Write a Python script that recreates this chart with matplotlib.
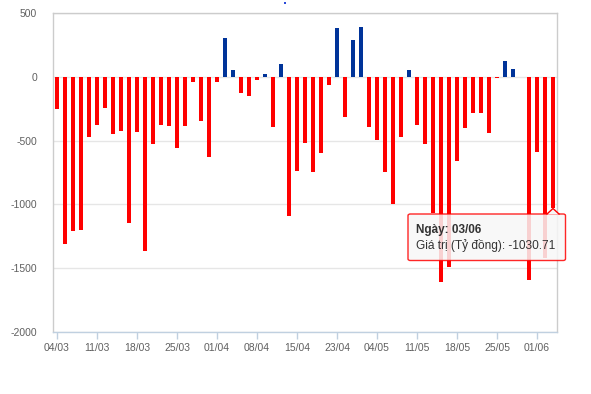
"""Net foreign trading value per session (bn VND), 04/03 - 03/06."""

import matplotlib

matplotlib.use("Agg")
import matplotlib.pyplot as plt
import numpy as np
from matplotlib.patches import FancyBboxPatch, Polygon, Rectangle

DATES = [
    "04/03", "05/03", "08/03", "09/03", "10/03", "11/03", "12/03", "15/03", "16/03", "17/03",
    "18/03", "19/03", "22/03", "23/03", "24/03", "25/03", "26/03", "29/03", "30/03", "31/03",
    "01/04", "02/04", "05/04", "06/04", "07/04", "08/04", "09/04", "12/04", "13/04", "14/04",
    "15/04", "16/04", "19/04", "20/04", "22/04", "23/04", "26/04", "27/04", "28/04", "29/04",
    "04/05", "05/05", "06/05", "07/05", "10/05", "11/05", "12/05", "13/05", "14/05", "17/05",
    "18/05", "19/05", "20/05", "21/05", "24/05", "25/05", "26/05", "27/05", "28/05", "31/05",
    "01/06", "02/06", "03/06",
]

VALUES = [
    -251, -1311, -1209, -1201, -471, -377, -243, -448, -424, -1146,
    -432, -1366, -526, -377, -385, -558, -385, -39, -346, -628,
    -39, 304, 52, -126, -149, -24, 21, -393, 99, -1091,
    -738, -518, -746, -597, -63, 382, -314, 288, 390, -393,
    -495, -746, -994, -471, 52, -377, -526, -1070, -1606, -1489,
    -660, -401, -283, -283, -440, -8, 123, 60, np.nan, -1590,
    -589, -1420, -1030.71,
]

Y_TICKS = [500, 0, -500, -1000, -1500, -2000]

POS_COLOR = "#003399"
NEG_COLOR = "#ff0000"
LABEL_COLOR = "#606060"

plt.rcParams["font.family"] = ["Liberation Sans", "DejaVu Sans"]

W, H = 591, 394
fig = plt.figure(figsize=(W / 100, H / 100), dpi=100)
ax = fig.add_axes([52.5 / W, 1 - 332 / H, (557 - 52.5) / W, (332 - 13) / H])

x = np.arange(len(DATES))
vals = np.array(VALUES, dtype=float)
colors = [POS_COLOR if v > 0 else NEG_COLOR for v in np.nan_to_num(vals)]
ax.bar(x, vals, width=0.5, color=colors, zorder=3)

ax.set_xlim(-0.56, len(DATES) - 0.5)
ax.set_ylim(-2000, 500)
ax.set_yticks(Y_TICKS)
ax.set_yticklabels([str(t) for t in Y_TICKS])
ax.grid(axis="y", color="#e6e6e6", linewidth=1, zorder=0)

tick_idx = x[::5]
ax.set_xticks(tick_idx)
ax.set_xticklabels([DATES[i] for i in tick_idx])

ax.tick_params(axis="y", length=0, pad=11, labelsize=7.5, labelcolor=LABEL_COLOR)
ax.tick_params(axis="x", direction="out", length=5, width=1, color="#c0d0e0",
               pad=3, labelsize=7.5, labelcolor=LABEL_COLOR)

for side in ("top", "right", "left"):
    ax.spines[side].set_color("#cccccc")
    ax.spines[side].set_linewidth(1)
ax.spines["bottom"].set_color("#c0d0e0")
ax.spines["bottom"].set_linewidth(1)


def px(xp, yp):
    return xp / W, 1 - yp / H


# tooltip for the last session
x0, y0, x1, y1 = 408, 214, 565.5, 260.5
box = FancyBboxPatch(px(x0, y1), (x1 - x0) / W, (y1 - y0) / H,
                     boxstyle="round,pad=0,rounding_size=0.004",
                     transform=fig.transFigure, facecolor="#f7f7f7", alpha=0.85,
                     edgecolor=NEG_COLOR, linewidth=1, zorder=10)
fig.patches.append(box)
arrow = Polygon([px(547, y0 + 0.5), px(553, 208.5), px(559, y0 + 0.5)],
                closed=True, transform=fig.transFigure, facecolor="#f7f7f7",
                edgecolor="none", zorder=11)
fig.patches.append(arrow)
fig.lines.append(plt.Line2D(*zip(px(547, y0), px(553, 208.5), px(559, y0)),
                            transform=fig.transFigure, color=NEG_COLOR,
                            linewidth=1, zorder=12))

tx, ty = px(416.5, 233.5)
fig.text(tx, ty, "Ngày: 03/06", fontsize=8.5, fontweight="bold", color="#333333",
         va="baseline", zorder=13)
tx, ty = px(416.5, 249)
fig.text(tx, ty, f"Giá trị (Tỷ đồng): {VALUES[-1]:.2f}", fontsize=8.6,
         color="#333333", va="baseline", zorder=13)

# small legend marker left at the top
fig.patches.append(Rectangle(px(283.5, 4), 2 / W, 2 / H, transform=fig.transFigure,
                             facecolor="#2b4bd8", edgecolor="none"))

fig.savefig("out.png", dpi=100)
plt.close(fig)
